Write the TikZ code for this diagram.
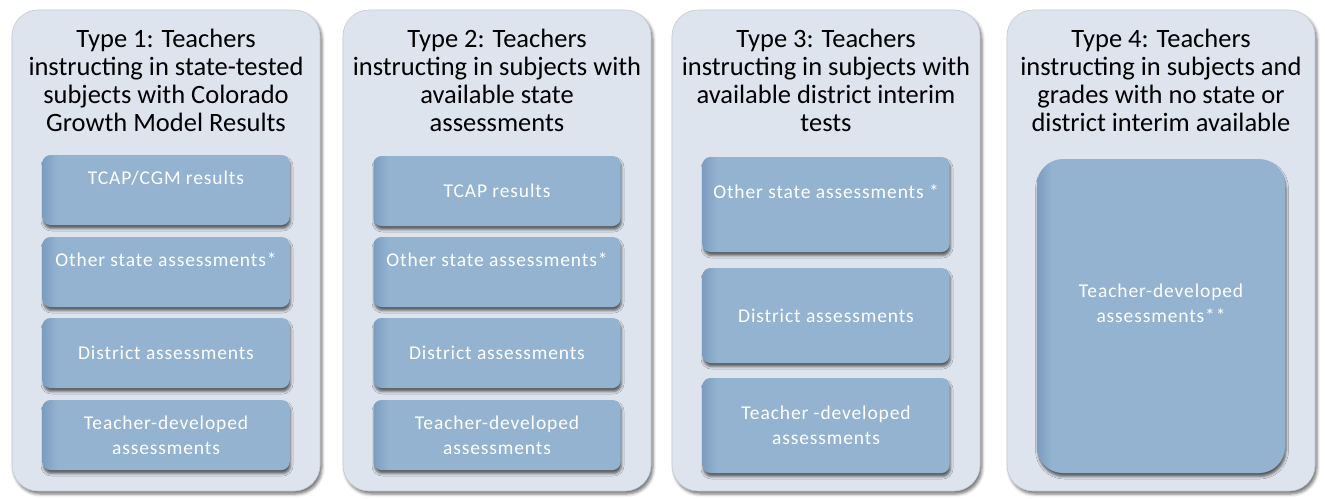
\documentclass[tikz,border=0pt]{standalone}
\usepackage{fontspec}
\setmainfont{Carlito}
\usetikzlibrary{shadows.blur}
\definecolor{outerfill}{RGB}{221,228,238}
\definecolor{outerline}{RGB}{196,203,212}
\definecolor{innerfill}{RGB}{147,179,209}
\definecolor{innerdark}{RGB}{124,157,191}
\pgfdeclarehorizontalshading{innershade}{100bp}{color(0bp)=(innerdark); color(25bp)=(innerdark); color(28bp)=(innerfill); color(100bp)=(innerfill)}
\begin{document}
\begin{tikzpicture}[x=1pt,y=-1pt,
  outerbox/.style={rounded corners=26pt, fill=outerfill, draw=outerline, line width=0.6pt,
    blur shadow={shadow xshift=2pt, shadow yshift=-3pt, shadow blur radius=3pt, shadow opacity=55},
    minimum width=308pt, minimum height=481pt, inner sep=0pt},
  titletext/.style={font=\fontsize{26.5}{28}\selectfont, align=center, anchor=north, inner sep=0pt, text=black},
  innerbox/.style={rounded corners=8pt, shade, shading=innershade, draw=none, minimum width=247pt,
    inner sep=0pt, align=center, text=white,
    font=\fontsize{19.5}{25}\selectfont\addfontfeature{LetterSpace=4.5},
    blur shadow={shadow xshift=1pt, shadow yshift=-3.5pt, shadow blur radius=2.5pt, shadow opacity=60}},
]
\useasboundingbox (0,0) rectangle (1325,498);

% outer boxes
\node[outerbox] (o1) at (166,250.5) {};
\node[outerbox] (o2) at (497,250.5) {};
\node[outerbox] (o3) at (826,250.5) {};
\node[outerbox] (o4) at (1161,250.5) {};

% titles
\node[titletext] (t1) at (166,29) {Type 1: Teachers\\instructing in state-tested\\subjects with Colorado\\Growth Model Results};
\node[titletext] (t2) at (497,29) {Type 2: Teachers\\instructing in subjects with\\available state\\assessments};
\node[titletext] (t3) at (826,29) {Type 3: Teachers\\instructing in subjects with\\available district interim\\tests};
\node[titletext] (t4) at (1161,29) {Type 4: Teachers\\instructing in subjects and\\grades with no state or\\district interim available};

% column 1
\node[innerbox, minimum height=70pt] (a1) at (166,190) {TCAP/CGM results\\~};
\node[innerbox, minimum height=70pt] (a2) at (166,272) {Other state assessments*\\~};
\node[innerbox, minimum height=70pt] (a3) at (166,353) {District assessments};
\node[innerbox, minimum height=70pt] (a4) at (166,435) {Teacher-developed\\assessments};

% column 2
\node[innerbox, minimum height=70pt] (b1) at (497,191) {TCAP results};
\node[innerbox, minimum height=70pt] (b2) at (497,272) {Other state assessments*\\~};
\node[innerbox, minimum height=70pt] (b3) at (497,353) {District assessments};
\node[innerbox, minimum height=70pt] (b4) at (497,435) {Teacher-developed\\assessments};

% column 3
\node[innerbox, minimum height=95pt] (c1) at (826,204.5) {Other state assessments *\\~};
\node[innerbox, minimum height=95pt] (c2) at (826,315.5) {District assessments};
\node[innerbox, minimum height=95pt] (c3) at (826,425.5) {Teacher -developed\\assessments};

% column 4
\node[innerbox, rounded corners=26pt, minimum height=314pt, minimum width=248pt] (d1) at (1161,316) {Teacher-developed\\assessments**\\~};
\end{tikzpicture}
\end{document}
